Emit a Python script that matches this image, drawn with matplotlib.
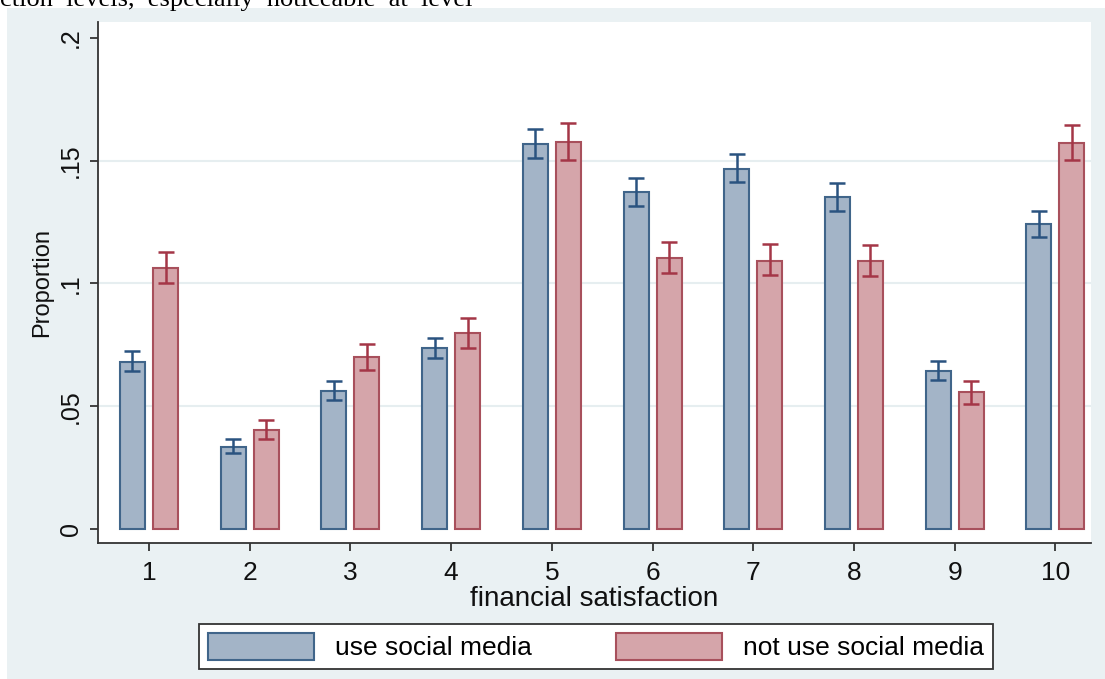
import matplotlib.pyplot as plt
import numpy as np
from matplotlib.patches import Rectangle, Patch

# financial satisfaction levels and estimated proportions with 95% CIs
levels = [1, 2, 3, 4, 5, 6, 7, 8, 9, 10]
use_prop = [0.068, 0.0335, 0.0564, 0.0736, 0.1568, 0.1371, 0.1466, 0.1351, 0.0644, 0.1243]
use_lo = [0.0642, 0.0309, 0.0527, 0.0695, 0.1511, 0.1317, 0.1412, 0.1297, 0.0606, 0.1191]
use_hi = [0.0724, 0.0366, 0.0602, 0.0777, 0.1629, 0.1428, 0.1527, 0.1409, 0.0686, 0.1297]
not_prop = [0.1065, 0.0404, 0.0700, 0.0797, 0.1576, 0.1104, 0.1093, 0.1093, 0.0556, 0.1573]
not_lo = [0.1000, 0.0366, 0.0648, 0.0736, 0.1504, 0.1043, 0.1034, 0.1031, 0.0509, 0.1504]
not_hi = [0.1130, 0.0444, 0.0752, 0.0858, 0.1652, 0.1168, 0.1159, 0.1157, 0.0604, 0.1646]
yticks = [0, 0.05, 0.1, 0.15, 0.2]
ytick_labels = ["0", ".05", ".1", ".15", ".2"]

W, H = 1105, 679
fig = plt.figure(figsize=(W / 100, H / 100), dpi=100)
fig.patch.set_facecolor("white")

# outer graph region (light blue-grey)
fig.patches.append(Rectangle((7 / W, 0), 1 - 7 / W, 1 - 8 / H, transform=fig.transFigure,
                             facecolor="#eaf1f3", edgecolor="none", zorder=-5))

# line of document text above the graph
fig.text(0.0, 1 - 6 / H, "ction  levels,  especially  noticeable  at  level",
         family="Liberation Serif", fontsize=19, color="black", va="baseline", ha="left")

ax = fig.add_axes([98 / W, 1 - 543 / H, (1091 - 98) / W, (543 - 22) / H])
ax.set_facecolor("white")

x = np.array(levels)
w = 0.248
off = 0.164
blue_fill, blue_edge, blue_err = "#a3b4c7", "#40658a", "#2a5380"
red_fill, red_edge, red_err = "#d5a5aa", "#a8505c", "#a43647"

use_prop = np.array(use_prop)
not_prop = np.array(not_prop)
ax.bar(x - off, use_prop, w, color=blue_fill, edgecolor=blue_edge, linewidth=1.5, zorder=2)
ax.bar(x + off, not_prop, w, color=red_fill, edgecolor=red_edge, linewidth=1.5, zorder=2)
ax.errorbar(x - off, use_prop, yerr=[use_prop - np.array(use_lo), np.array(use_hi) - use_prop],
            fmt="none", ecolor=blue_err, elinewidth=1.8, capsize=6, capthick=1.8, zorder=3)
ax.errorbar(x + off, not_prop, yerr=[not_prop - np.array(not_lo), np.array(not_hi) - not_prop],
            fmt="none", ecolor=red_err, elinewidth=1.8, capsize=6, capthick=1.8, zorder=3)

for g in [0.05, 0.1, 0.15]:
    ax.axhline(g, color="#e6eef0", linewidth=1.5, zorder=1)

ax.set_xlim(0.4935, 10.354)
ax.set_ylim(-0.0057, 0.2065)
ax.set_xticks(levels)
ax.set_xticklabels([str(v) for v in levels], family="Liberation Sans", fontsize=19)
ax.set_yticks(yticks)
ax.set_yticklabels(ytick_labels, family="Liberation Sans", fontsize=18,
                   rotation=90, va="center")

for s in ["top", "right"]:
    ax.spines[s].set_visible(False)
for s in ["left", "bottom"]:
    ax.spines[s].set_color("#333333")
    ax.spines[s].set_linewidth(1.3)
ax.tick_params(axis="both", direction="out", length=6, width=1.3, color="#333333",
               labelcolor="#111111", pad=5)
ax.tick_params(axis="x", pad=7)

ax.set_xlabel("financial satisfaction", family="Liberation Sans", fontsize=20,
              color="#111111", labelpad=1)
ax.set_ylabel("Proportion", family="Liberation Sans", fontsize=17, color="#111111",
              labelpad=4)

handles = [Patch(facecolor=blue_fill, edgecolor=blue_edge, linewidth=1.5),
           Patch(facecolor=red_fill, edgecolor=red_edge, linewidth=1.5)]
leg = fig.legend(handles, ["use social media", "not use social media"], ncol=2,
                 loc="center", bbox_to_anchor=(596 / W, 1 - 646.5 / H),
                 prop={"family": "Liberation Sans", "size": 19},
                 frameon=True, fancybox=False, edgecolor="#333333", framealpha=1,
                 handlelength=4.0, handleheight=1.2, handletextpad=0.8,
                 columnspacing=3.2, borderpad=0.35)
leg.get_frame().set_linewidth(1.3)
leg.get_frame().set_facecolor("white")

fig.savefig("out.png", dpi=100, facecolor=fig.get_facecolor())
